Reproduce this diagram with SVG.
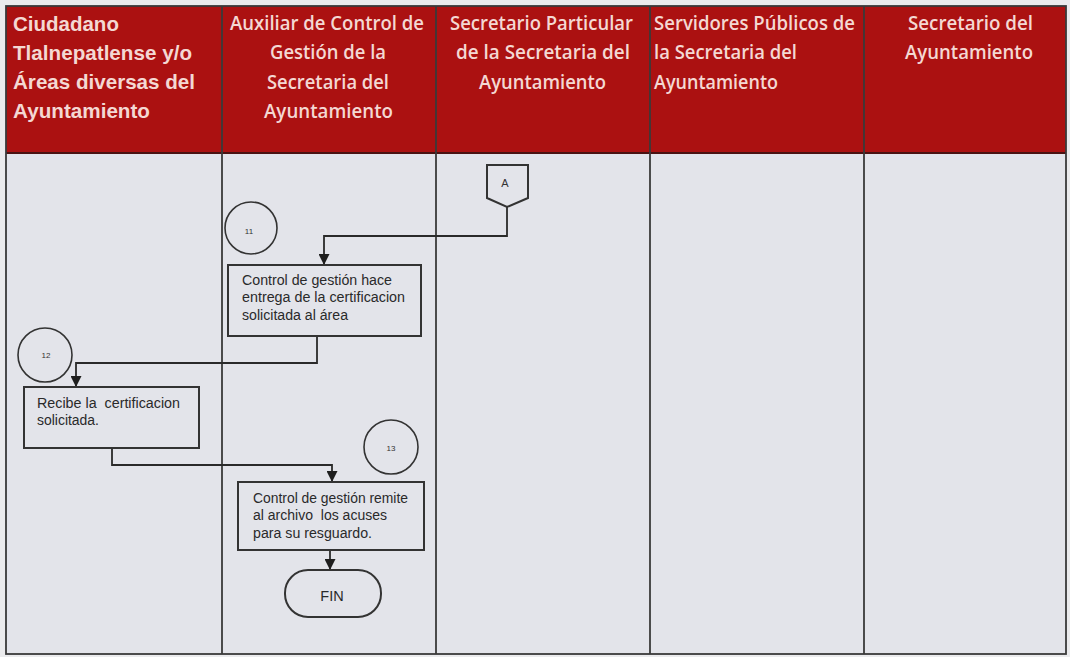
<svg xmlns="http://www.w3.org/2000/svg" width="1070" height="657" viewBox="0 0 1070 657">
<defs>
<style>
.hdr{font-family:"Open Sans","Liberation Sans",sans-serif;font-weight:600;font-size:19.5px;fill:#f4d8d3}
.hdr1{font-family:"Liberation Sans",Arial,sans-serif;font-weight:700;font-size:20.5px;fill:#f4d8d3}
.box{fill:none;stroke:#333;stroke-width:2}
.circ{fill:none;stroke:#333;stroke-width:1.6}
.txt{font-family:"Liberation Sans",Arial,sans-serif;font-size:14px;fill:#2a2a2a}
.sm{font-family:"Liberation Sans",Arial,sans-serif;font-size:8px;fill:#333}
.con{fill:none;stroke:#2a2a2a;stroke-width:1.8}
.col{stroke:#3a3a3a;stroke-width:1.8}
</style>
<marker id="arr" viewBox="0 0 10 10" refX="10" refY="5" markerWidth="11" markerHeight="11" markerUnits="userSpaceOnUse" orient="auto">
<path d="M0,0 L10,5 L0,10 z" fill="#1e1e1e"/>
</marker>
</defs>
<rect x="0" y="0" width="1070" height="657" fill="#ebebed"/>
<g id="table">
<rect x="6" y="153" width="1060" height="501" fill="#e3e4ea"/>
<rect x="6" y="6" width="1060" height="147" fill="#ab1111"/>
<line x1="6" y1="153" x2="1066" y2="153" stroke="#4a1212" stroke-width="2"/>
<rect x="6" y="6" width="1060" height="648" fill="none" stroke="#3a3a3a" stroke-width="1.8"/>
<line class="col" x1="222" y1="6" x2="222" y2="654"/>
<line class="col" x1="436" y1="6" x2="436" y2="654"/>
<line class="col" x1="650" y1="6" x2="650" y2="654"/>
<line class="col" x1="864" y1="6" x2="864" y2="654"/>
</g>
<g id="headers">
<text class="hdr1" x="13" y="31">Ciudadano</text>
<text class="hdr1" x="13" y="60" textLength="179" lengthAdjust="spacingAndGlyphs">Tlalnepatlense y/o</text>
<text class="hdr1" x="13" y="89" textLength="182" lengthAdjust="spacingAndGlyphs">Áreas diversas del</text>
<text class="hdr1" x="13" y="118" textLength="137" lengthAdjust="spacingAndGlyphs">Ayuntamiento</text>
<text class="hdr" x="230" y="30" textLength="194" lengthAdjust="spacingAndGlyphs">Auxiliar de Control de</text>
<text class="hdr" x="270" y="59" textLength="116" lengthAdjust="spacingAndGlyphs">Gestión de la</text>
<text class="hdr" x="267" y="89" textLength="122" lengthAdjust="spacingAndGlyphs">Secretaria del</text>
<text class="hdr" x="264" y="118" textLength="129" lengthAdjust="spacingAndGlyphs">Ayuntamiento</text>
<text class="hdr" x="450" y="30" textLength="183" lengthAdjust="spacingAndGlyphs">Secretario Particular</text>
<text class="hdr" x="456" y="59" textLength="174" lengthAdjust="spacingAndGlyphs">de la Secretaria del</text>
<text class="hdr" x="479" y="89" textLength="127" lengthAdjust="spacingAndGlyphs">Ayuntamiento</text>
<text class="hdr" x="654" y="30" textLength="201" lengthAdjust="spacingAndGlyphs">Servidores Públicos de</text>
<text class="hdr" x="654" y="59" textLength="143" lengthAdjust="spacingAndGlyphs">la Secretaria del</text>
<text class="hdr" x="654" y="89" textLength="124" lengthAdjust="spacingAndGlyphs">Ayuntamiento</text>
<text class="hdr" x="908" y="30" textLength="125" lengthAdjust="spacingAndGlyphs">Secretario del</text>
<text class="hdr" x="905" y="59" textLength="128" lengthAdjust="spacingAndGlyphs">Ayuntamiento</text>
</g>
<g id="connectors">
<path class="con" d="M507,207 V236 H324 V265" marker-end="url(#arr)"/>
<path class="con" d="M317,336 V363 H76 V387" marker-end="url(#arr)"/>
<path class="con" d="M112,448 V465 H332 V482" marker-end="url(#arr)"/>
<path class="con" d="M330,550 V570" marker-end="url(#arr)"/>
</g>
<g id="connector-A">
<path class="box" d="M487,165 H528 V198 L507,207 L487,198 Z" stroke-width="1.6"/>
<text x="505" y="187" text-anchor="middle" font-family="Liberation Sans,Arial,sans-serif" font-size="11" fill="#333">A</text>
</g>
<g id="step11">
<circle class="circ" cx="251" cy="228" r="26"/>
<text class="sm" x="249" y="234" text-anchor="middle">11</text>
</g>
<g id="box11">
<rect class="box" x="228" y="265" width="193" height="71"/>
<text class="txt" x="242" y="285" textLength="150" lengthAdjust="spacingAndGlyphs">Control de gestión hace</text>
<text class="txt" x="242" y="302" textLength="163" lengthAdjust="spacingAndGlyphs">entrega de la certificacion</text>
<text class="txt" x="242" y="320" textLength="106" lengthAdjust="spacingAndGlyphs">solicitada al área</text>
</g>
<g id="step12">
<circle class="circ" cx="45" cy="355" r="27"/>
<text class="sm" x="46" y="358" text-anchor="middle">12</text>
</g>
<g id="box12">
<rect class="box" x="24" y="387" width="175" height="61"/>
<text class="txt" x="37" y="408" textLength="143" lengthAdjust="spacingAndGlyphs" xml:space="preserve">Recibe la  certificacion</text>
<text class="txt" x="37" y="425" textLength="62" lengthAdjust="spacingAndGlyphs">solicitada.</text>
</g>
<g id="step13">
<circle class="circ" cx="391" cy="447" r="27"/>
<text class="sm" x="391" y="451" text-anchor="middle">13</text>
</g>
<g id="box13">
<rect class="box" x="238" y="482" width="186" height="68"/>
<text class="txt" x="253" y="503" textLength="155" lengthAdjust="spacingAndGlyphs">Control de gestión remite</text>
<text class="txt" x="253" y="520" textLength="134" lengthAdjust="spacingAndGlyphs" xml:space="preserve">al archivo  los acuses</text>
<text class="txt" x="253" y="538" textLength="119" lengthAdjust="spacingAndGlyphs">para su resguardo.</text>
</g>
<g id="fin">
<rect class="box" x="285" y="570" width="96" height="47" rx="23" ry="23"/>
<text x="332" y="601" text-anchor="middle" font-family="Liberation Sans,Arial,sans-serif" font-size="14.5" fill="#2a2a2a">FIN</text>
</g>
</svg>
